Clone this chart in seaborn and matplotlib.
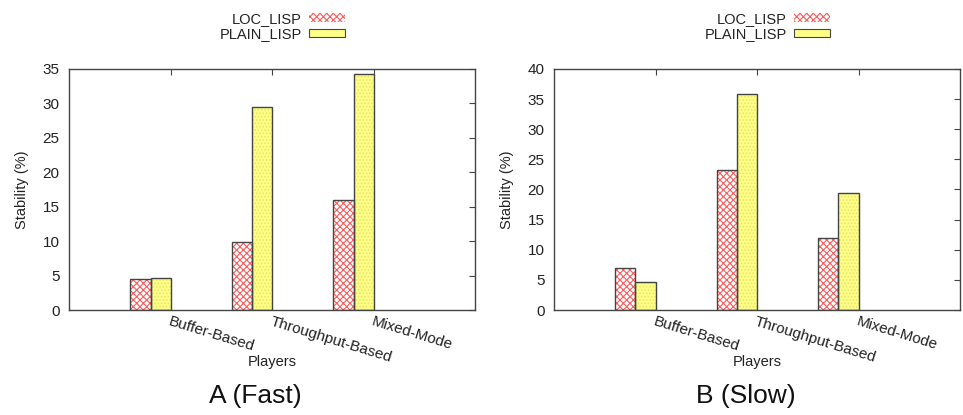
import matplotlib
matplotlib.use("Agg")
import matplotlib.pyplot as plt
from matplotlib.patches import Patch, Rectangle
import seaborn as sns
import pandas as pd

players = ["Buffer-Based", "Throughput-Based", "Mixed-Mode"]
series = ["LOC_LISP", "PLAIN_LISP"]
fast_loc = [4.55, 9.8, 15.9]
fast_plain = [4.7, 29.4, 34.3]
slow_loc = [7.0, 23.2, 11.95]
slow_plain = [4.7, 35.85, 19.4]
panel_titles = ["A (Fast)", "B (Slow)"]
ylims = [35, 40]

sns.set_theme(style="white")
plt.rcParams["font.family"] = ["Liberation Sans", "DejaVu Sans"]
plt.rcParams["hatch.linewidth"] = 0.8
TXT = "#222222"
EDGE = "#444444"
LOC_HATCH = "#ff5a5a"
PLAIN_FILL = "#ffff88"
PLAIN_HATCH = "#e6e66a"

fig = plt.figure(figsize=(9.63, 4.15), dpi=100)
axes_rects = [[0.072, 0.253, 0.4216, 0.581], [0.5756, 0.253, 0.4213, 0.581]]
title_x = [255 / 963, 746 / 963]

for k, (loc_vals, plain_vals) in enumerate([(fast_loc, fast_plain), (slow_loc, slow_plain)]):
    ax = fig.add_axes(axes_rects[k])
    df = pd.DataFrame({
        "Players": players * 2,
        "Stability": loc_vals + plain_vals,
        "Series": [series[0]] * 3 + [series[1]] * 3,
    })
    sns.barplot(data=df, x="Players", y="Stability", hue="Series",
                hue_order=series, order=players, width=0.4,
                palette=["white", PLAIN_FILL], legend=False, ax=ax,
                saturation=1)
    conts = ax.containers
    for p in conts[0]:
        p.set_facecolor("white")
        p.set_edgecolor(LOC_HATCH)
        p.set_hatch("xxxxx")
        p.set_linewidth(0)
    for p in conts[1]:
        p.set_facecolor(PLAIN_FILL)
        p.set_edgecolor(PLAIN_HATCH)
        p.set_hatch(".....")
        p.set_linewidth(0)
    for c in conts:
        for p in c:
            ax.add_patch(Rectangle(p.get_xy(), p.get_width(), p.get_height(),
                                   fill=False, edgecolor=EDGE, linewidth=1.0, zorder=3))
    ax.set_xlim(-0.8, 3.2)
    ax.set_ylim(0, ylims[k])
    ax.set_yticks(range(0, ylims[k] + 1, 5))
    ax.set_xticks([i + 0.2 for i in range(len(players))])
    ax.set_xticklabels(players, rotation=-17, ha="left", va="top",
                       rotation_mode="anchor", fontsize=11, color=TXT)
    ax.tick_params(axis="y", labelsize=11, labelcolor=TXT)
    ax.tick_params(direction="in", top=True, right=True, length=4,
                   color=EDGE, width=0.8, pad=3)
    ax.tick_params(axis="y", pad=7)
    for s in ax.spines.values():
        s.set_color(EDGE)
        s.set_linewidth(1.0)
        s.set_visible(True)
    ax.set_ylabel("Stability (%)", fontsize=10.5, color=TXT, labelpad=10)
    ax.set_xlabel("Players", fontsize=10.5, color=TXT)
    ax.xaxis.set_label_coords(0.5, -0.185)

    handles = [
        Patch(facecolor="white", edgecolor=LOC_HATCH, hatch="xxxxx", linewidth=0),
        Patch(facecolor=PLAIN_FILL, edgecolor=EDGE, linewidth=0.8),
    ]
    leg = ax.legend(handles, series, loc="lower center", bbox_to_anchor=(0.525, 1.085),
                    frameon=False, markerfirst=False, fontsize=10.5,
                    handlelength=2.5, handleheight=0.5, labelspacing=0.1,
                    handletextpad=0.5, borderpad=0)
    for t in leg.get_texts():
        t.set_color(TXT)

    fig.text(title_x[k], 0.046, panel_titles[k], ha="center",
             va="center", fontsize=19, color="#111111")

fig.savefig("out.png", dpi=100)
